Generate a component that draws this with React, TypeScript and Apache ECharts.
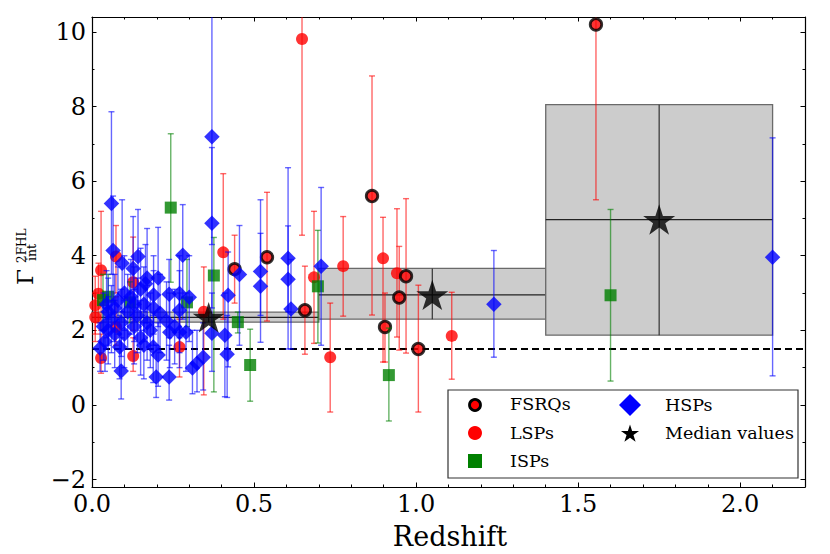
import React, { useEffect, useRef } from 'react';
import * as echarts from 'echarts';

// ---- axis ranges and ticks ----
const X_MIN = 0;
const X_MAX = 2.2;
const Y_MIN = -2.2;
const Y_MAX = 10.4;
const X_MAJOR = [0, 0.5, 1, 1.5, 2];
const X_MINOR = [0.1, 0.2, 0.3, 0.4, 0.6, 0.7, 0.8, 0.9, 1.1, 1.2, 1.3, 1.4, 1.6, 1.7, 1.8, 1.9, 2.1];
const Y_MAJOR = [-2, 0, 2, 4, 6, 8, 10];
const Y_MINOR = [-1, 1, 3, 5, 7, 9];
const THRESHOLD = 1.5;

// ---- data: [redshift, Gamma, lower error end, upper error end] ----
const FSRQ: [number, number, number, number][] = [
  [0.44, 3.64, 2.73, 4.55],
  [0.54, 3.96, 2.25, 5.7],
  [0.657, 2.54, 1.36, 3.72],
  [0.864, 5.6, 2.41, 8.82],
  [0.904, 2.09, 1.15, 3.0],
  [0.948, 2.88, 1.47, 4.25],
  [0.969, 3.45, 1.39, 5.53],
  [1.007, 1.5, -0.19, 3.21],
  [1.555, 10.2, 5.5, 14],
];

const LSP: [number, number, number, number][] = [
  [0.648, 9.81, 4.55, 15],
  [0.685, 3.42, 1.65, 5.19],
  [0.735, 1.28, -0.19, 2.73],
  [0.775, 3.72, 2.38, 5.05],
  [0.898, 3.93, 1.15, 5.03],
  [0.941, 3.53, 1.82, 5.26],
  [1.11, 1.85, 0.69, 3.02],
  [0.405, 4.09, 2.3, 6.2],
  [0.028, 3.61, 2.0, 5.19],
  [0.074, 3.98, 3.0, 4.81],
  [0.127, 3.29, 2.0, 4.5],
  [0.028, 1.26, 0.85, 1.9],
  [0.127, 1.31, 0.9, 1.8],
  [0.27, 1.55, 0.75, 2.3],
  [0.01, 2.67, 1.9, 3.45],
  [0.01, 2.35, 1.7, 3.0],
  [0.02, 2.98, 2.2, 3.8],
  [0.074, 2.09, 1.6, 2.9],
  [0.345, 2.5, 0.27, 3.7],
];

const ISP: [number, number, number, number][] = [
  [0.243, 5.29, 3.29, 7.27],
  [0.376, 3.47, 0.35, 4.49],
  [0.45, 2.22, 1.93, 2.49],
  [0.488, 1.07, 0.1, 2.03],
  [0.697, 3.18, 1.66, 4.68],
  [0.916, 0.8, -0.43, 2.06],
  [1.6, 2.94, 0.64, 5.24],
  [0.293, 2.75, 2.1, 3.9],
  [0.117, 2.75, 2.2, 3.3],
  [0.034, 2.81, 2.0, 3.5],
  [0.05, 2.9, 2.3, 3.5],
];

const HSP: [number, number, number, number][] = [
  [0.37, 7.19, 4.3, 12],
  [0.37, 4.87, 2.6, 6.9],
  [0.06, 5.4, 3.5, 7.86],
  [0.065, 4.14, 2.8, 5.6],
  [0.093, 3.8, 2.5, 5.5],
  [0.127, 3.66, 2.3, 5.05],
  [0.142, 3.98, 2.6, 5.24],
  [0.17, 3.4, 2.2, 4.73],
  [0.204, 3.4, 2.1, 4.76],
  [0.28, 4.01, 2.3, 5.37],
  [0.455, 3.5, 1.6, 4.81],
  [0.52, 3.58, 2.4, 5.5],
  [0.52, 3.18, 1.68, 4.6],
  [0.605, 3.93, 2.5, 6.36],
  [0.605, 3.37, 1.5, 4.8],
  [0.614, 2.57, 1.5, 3.9],
  [0.707, 3.72, 1.6, 5.83],
  [1.24, 2.7, 1.28, 4.14],
  [2.1, 3.96, 0.78, 7.16],
  [0.42, 2.94, 1.02, 4.1],
  [0.41, 1.87, 0.22, 3.0],
  [0.417, 1.36, 0.2, 2.4],
  [0.37, 1.92, 0.9, 3.0],
  [0.343, 1.28, 0.4, 2.2],
  [0.31, 0.99, 0.3, 2.0],
  [0.324, 1.12, 0.35, 2.0],
  [0.238, 0.75, 0.13, 1.6],
  [0.198, 0.75, 0.2, 1.6],
  [0.09, 0.91, 0.16, 1.8],
  [0.204, 1.34, 0.5, 2.2],
  [0.189, 1.55, 0.6, 2.4],
  [0.27, 2.54, 1.4, 3.6],
  [0.238, 2.97, 1.8, 3.9],
  [0.27, 2.99, 1.8, 4.0],
  [0.3, 2.89, 1.7, 4.0],
  [0.29, 1.95, 0.9, 3.0],
  [0.27, 1.95, 1.0, 3.0],
  [0.24, 1.95, 1.0, 3.0],
  [0.21, 2.46, 1.4, 3.5],
  [0.025, 1.52, 0.9, 2.2],
  [0.04, 1.7, 0.9, 2.6],
  [0.05, 2.0, 1.1, 2.9],
  [0.06, 2.3, 1.4, 3.2],
  [0.07, 2.6, 1.7, 3.5],
  [0.08, 2.8, 1.9, 3.7],
  [0.09, 2.2, 1.3, 3.1],
  [0.1, 1.9, 1.0, 2.8],
  [0.11, 2.5, 1.5, 3.5],
  [0.12, 2.9, 1.9, 3.9],
  [0.13, 2.1, 1.1, 3.1],
  [0.14, 2.4, 1.4, 3.4],
  [0.15, 1.8, 0.8, 2.8],
  [0.16, 2.7, 1.7, 3.7],
  [0.17, 2.2, 1.2, 3.2],
  [0.18, 2.0, 1.0, 3.0],
  [0.19, 2.6, 1.6, 3.6],
  [0.05, 2.5, 1.6, 3.4],
  [0.07, 1.9, 1.0, 2.8],
  [0.1, 3.0, 2.0, 4.0],
  [0.13, 2.7, 1.7, 3.7],
  [0.15, 3.1, 2.0, 4.2],
  [0.035, 2.1, 1.2, 3.0],
  [0.045, 2.7, 1.8, 3.6],
  [0.085, 1.55, 0.7, 2.4],
  [0.16, 1.6, 0.7, 2.5],
  [0.23, 2.25, 1.2, 3.3],
  [0.255, 2.1, 1.1, 3.1],
  [0.19, 2.95, 1.9, 4.0],
  [0.165, 3.25, 2.2, 4.3],
];

// ---- median values per redshift bin ----
const BIN_LO = [0, 0.7, 1.4];
const BIN_HI = [0.7, 1.4, 2.1];
const MED_Z = [0.36, 1.05, 1.75];
const MED_Y = [2.35, 2.95, 4.97];
const MED_Y_LO = [2.22, 2.3, 1.87];
const MED_Y_HI = [2.49, 3.66, 8.05];

const FONT = 'DejaVu Serif';
const STAR_PATH =
  'path://M0,-10L2.245,-3.09L9.511,-3.09L3.633,1.18L5.878,8.09L0,3.82L-5.878,8.09L-3.633,1.18L-9.511,-3.09L-2.245,-3.09Z';

function starPoints(cx: number, cy: number, r: number): number[][] {
  const pts: number[][] = [];
  for (let i = 0; i < 10; i++) {
    const rr = i % 2 === 0 ? r : r * 0.382;
    const a = -Math.PI / 2 + (i * Math.PI) / 5;
    pts.push([cx + rr * Math.cos(a), cy + rr * Math.sin(a)]);
  }
  return pts;
}

function errSeries(name: string, data: [number, number, number, number][], color: string, z: number) {
  return {
    type: 'custom',
    name,
    z,
    silent: true,
    xAxisIndex: 0,
    yAxisIndex: 0,
    data: data.map((d) => [d[0], d[2], d[3]]),
    encode: { x: 0, y: [1, 2] },
    renderItem: (params: any, api: any) => {
      const x = api.value(0);
      const lo = api.value(1);
      const hi = api.value(2);
      const loC = Math.max(lo, Y_MIN);
      const hiC = Math.min(hi, Y_MAX);
      const p0 = api.coord([x, loC]);
      const p1 = api.coord([x, hiC]);
      const st = { stroke: color, lineWidth: 1.4 };
      const children: any[] = [
        { type: 'line', shape: { x1: p0[0], y1: p0[1], x2: p1[0], y2: p1[1] }, style: st },
      ];
      if (lo >= Y_MIN) children.push({ type: 'line', shape: { x1: p0[0] - 3, y1: p0[1], x2: p0[0] + 3, y2: p0[1] }, style: st });
      if (hi <= Y_MAX) children.push({ type: 'line', shape: { x1: p1[0] - 3, y1: p1[1], x2: p1[0] + 3, y2: p1[1] }, style: st });
      return { type: 'group', children };
    },
  };
}

function markerSeries(name: string, data: [number, number, number, number][], symbol: string, size: number, itemStyle: any, z: number) {
  return {
    type: 'scatter',
    name,
    z,
    silent: true,
    xAxisIndex: 0,
    yAxisIndex: 0,
    symbol,
    symbolSize: size,
    itemStyle,
    data: data.map((d) => [d[0], d[1]]),
  };
}

function xAxisDef(position: string, ticks: number[], len: number, showLabel: boolean, showLine: boolean) {
  return {
    type: 'value',
    min: X_MIN,
    max: X_MAX,
    position,
    gridIndex: 0,
    splitLine: { show: false },
    axisLine: { show: showLine, onZero: false, lineStyle: { color: '#000', width: 1.2 } },
    axisTick: { show: true, inside: true, length: len, customValues: ticks, lineStyle: { color: '#000', width: 1 } },
    axisLabel: {
      show: showLabel,
      customValues: ticks,
      formatter: (v: number) => v.toFixed(1),
      fontSize: 24,
      fontFamily: FONT,
      color: '#000',
      margin: 5,
    },
  };
}

function yAxisDef(position: string, ticks: number[], len: number, showLabel: boolean, showLine: boolean) {
  return {
    type: 'value',
    min: Y_MIN,
    max: Y_MAX,
    position,
    gridIndex: 0,
    splitLine: { show: false },
    axisLine: { show: showLine, onZero: false, lineStyle: { color: '#000', width: 1.2 } },
    axisTick: { show: true, inside: true, length: len, customValues: ticks, lineStyle: { color: '#000', width: 1 } },
    axisLabel: {
      show: showLabel,
      customValues: ticks,
      formatter: (v: number) => (v < 0 ? '\u2212' + Math.abs(v) : String(v)),
      fontSize: 24,
      fontFamily: FONT,
      color: '#000',
      margin: 6,
    },
  };
}

export default function App() {
  const ref = useRef<HTMLDivElement>(null);
  useEffect(() => {
    if (!ref.current) return;
    const chart = echarts.init(ref.current, null, { renderer: 'svg' });

    const boxData = BIN_LO.map((lo, i) => [lo, BIN_HI[i], MED_Y_LO[i], MED_Y_HI[i], MED_Z[i], MED_Y[i]]);

    const legendFont = { fontSize: 17.5, fontFamily: FONT, fill: '#000' };

    const option: any = {
      animation: false,
      backgroundColor: '#fff',
      textStyle: { fontFamily: FONT },
      grid: { left: 92, right: 25, top: 17, bottom: 67, containLabel: false },
      xAxis: [
        xAxisDef('bottom', X_MAJOR, 4.5, true, true),
        xAxisDef('bottom', X_MINOR, 2.5, false, false),
        xAxisDef('top', X_MAJOR, 4.5, false, true),
        xAxisDef('top', X_MINOR, 2.5, false, false),
      ],
      yAxis: [
        yAxisDef('left', Y_MAJOR, 4.5, true, true),
        yAxisDef('left', Y_MINOR, 2.5, false, false),
        yAxisDef('right', Y_MAJOR, 4.5, false, true),
        yAxisDef('right', Y_MINOR, 2.5, false, false),
      ],
      series: [
        {
          type: 'custom',
          name: 'bins',
          z: 1,
          silent: true,
          data: boxData,
          encode: { x: [0, 1, 4], y: [2, 3, 5] },
          renderItem: (params: any, api: any) => {
            const a = api.coord([api.value(0), api.value(3)]);
            const b = api.coord([api.value(1), api.value(2)]);
            const m = api.coord([api.value(4), api.value(5)]);
            return {
              type: 'group',
              children: [
                {
                  type: 'rect',
                  shape: { x: a[0], y: a[1], width: b[0] - a[0], height: b[1] - a[1] },
                  style: { fill: '#cccccc', stroke: '#6a6a6a', lineWidth: 1.3 },
                },
                { type: 'line', shape: { x1: a[0], y1: m[1], x2: b[0], y2: m[1] }, style: { stroke: '#222', lineWidth: 1.2 } },
                { type: 'line', shape: { x1: m[0], y1: a[1], x2: m[0], y2: b[1] }, style: { stroke: '#333', lineWidth: 1.2 } },
              ],
            };
          },
        },
        {
          type: 'line',
          name: 'threshold',
          z: 2,
          silent: true,
          symbol: 'none',
          data: [
            [X_MIN, THRESHOLD],
            [X_MAX, THRESHOLD],
          ],
          lineStyle: { color: '#000', width: 2, type: [7, 4] },
        },
        errSeries('LSPs err', LSP, 'rgba(255,0,0,0.6)', 3),
        markerSeries('LSPs', LSP, 'circle', 12, { color: '#ff0000' }, 4),
        errSeries('FSRQs err', FSRQ, 'rgba(255,0,0,0.6)', 5),
        markerSeries('FSRQs', FSRQ, 'circle', 11.5, { color: '#ff0000', borderColor: '#000', borderWidth: 2.8 }, 6),
        errSeries('ISPs err', ISP, 'rgba(0,128,0,0.6)', 7),
        markerSeries('ISPs', ISP, 'rect', 12, { color: '#008000' }, 8),
        errSeries('HSPs err', HSP, 'rgba(0,0,255,0.6)', 9),
        markerSeries('HSPs', HSP, 'diamond', 15.5, { color: '#0000ff' }, 10),
        {
          type: 'scatter',
          name: 'Median values',
          z: 12,
          silent: true,
          symbol: STAR_PATH,
          symbolKeepAspect: true,
          symbolSize: 32,
          itemStyle: { color: '#000' },
          data: MED_Z.map((z, i) => [z, MED_Y[i]]),
        },
      ],
      graphic: [
        // y-axis title
        {
          type: 'group',
          x: 33,
          y: 285,
          rotation: Math.PI / 2,
          children: [
            { type: 'text', x: 0, y: -8.5, style: { text: '\u0393', fontSize: 23, fontFamily: FONT, fill: '#000', align: 'left', verticalAlign: 'middle' } },
            { type: 'text', x: 22, y: -11, style: { text: '2FHL', fontSize: 12, fontFamily: FONT, fill: '#000', align: 'left', verticalAlign: 'middle' } },
            { type: 'text', x: 24, y: -1.5, style: { text: 'int', fontSize: 12.5, fontFamily: FONT, fill: '#000', align: 'left', verticalAlign: 'middle' } },
          ],
        },
        // x-axis title
        {
          type: 'text',
          x: 450,
          y: 536,
          style: { text: 'Redshift', fontSize: 27, fontFamily: FONT, fill: '#000', align: 'center', verticalAlign: 'middle' },
        },
        // legend
        {
          type: 'group',
          z: 100,
          children: [
            { type: 'rect', shape: { x: 448, y: 390, width: 350, height: 88 }, style: { fill: '#fff', stroke: '#333', lineWidth: 1.2 } },
            { type: 'circle', shape: { cx: 475, cy: 405, r: 5.5 }, style: { fill: '#ff0000', stroke: '#000', lineWidth: 2.8 } },
            { type: 'circle', shape: { cx: 475, cy: 433, r: 7 }, style: { fill: '#ff0000' } },
            { type: 'rect', shape: { x: 468, y: 454, width: 14, height: 14 }, style: { fill: '#008000' } },
            { type: 'polygon', shape: { points: [[630, 394], [641, 405], [630, 416], [619, 405]] }, style: { fill: '#0000ff' } },
            { type: 'polygon', shape: { points: starPoints(630, 434, 9.5) }, style: { fill: '#000' } },
            { type: 'text', x: 510, y: 404, style: { text: 'FSRQs', ...legendFont, align: 'left', verticalAlign: 'middle' } },
            { type: 'text', x: 510, y: 433, style: { text: 'LSPs', ...legendFont, align: 'left', verticalAlign: 'middle' } },
            { type: 'text', x: 510, y: 461, style: { text: 'ISPs', ...legendFont, align: 'left', verticalAlign: 'middle' } },
            { type: 'text', x: 665, y: 405, style: { text: 'HSPs', ...legendFont, align: 'left', verticalAlign: 'middle' } },
            { type: 'text', x: 665, y: 433, style: { text: 'Median values', ...legendFont, align: 'left', verticalAlign: 'middle' } },
          ],
        },
      ],
    };

    chart.setOption(option);
    return () => chart.dispose();
  }, []);

  return <div ref={ref} style={{ position: 'fixed', left: 0, top: 0, width: 830, height: 554, background: '#fff' }} />;
}
